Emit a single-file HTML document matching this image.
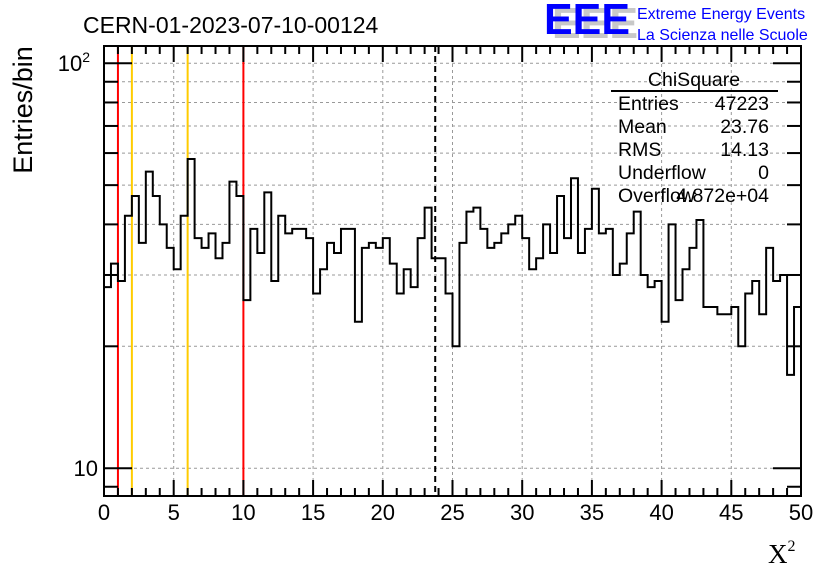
<!DOCTYPE html>
<html><head><meta charset="utf-8"><style>
html,body{margin:0;padding:0;background:#fff;}
svg{display:block;font-family:"Liberation Sans",sans-serif;}
</style></head><body>
<svg id="chart" width="836" height="572" viewBox="0 0 836 572" xmlns="http://www.w3.org/2000/svg">
<rect width="836" height="572" fill="#fff"/>
<g id="grid"></g>
<g id="vlines"></g>
<path id="hist" fill="none" stroke="#000" stroke-width="2"/>
<g id="axes"></g>
<text x="83" y="33" font-size="23">CERN-01-2023-07-10-00124</text>
<g>
<text x="552" y="38" font-size="44" font-weight="bold" fill="#c8c8c8" textLength="86" lengthAdjust="spacingAndGlyphs">EEE</text>
<text x="544" y="34" font-size="44" font-weight="bold" fill="#0000ff" textLength="86" lengthAdjust="spacingAndGlyphs">EEE</text>
<text x="637" y="19" font-size="16" fill="#0000ff">Extreme Energy Events</text>
<text x="637" y="40" font-size="16" fill="#0000ff">La Scienza nelle Scuole</text>
</g>
<g font-size="19.5">
<text x="694" y="86" text-anchor="middle">ChiSquare</text>
<line x1="611" y1="91" x2="778" y2="91" stroke="#000" stroke-width="2"/>
<text x="618" y="110">Entries</text><text x="769" y="110" text-anchor="end">47223</text>
<text x="618" y="133">Mean</text><text x="769" y="133" text-anchor="end">23.76</text>
<text x="618" y="156">RMS</text><text x="769" y="156" text-anchor="end">14.13</text>
<text x="618" y="179">Underflow</text><text x="769" y="179" text-anchor="end">0</text>
<text x="618" y="202">Overflow</text><text x="769" y="202" text-anchor="end">4.872e+04</text>
</g>
<text transform="translate(32,110) rotate(-90)" text-anchor="middle" font-size="27">Entries/bin</text>
<text x="768" y="563" font-size="27" font-family="Liberation Serif,serif">X<tspan font-size="16" dy="-12">2</tspan></text>
</svg>
<script>
const counts=[28,32,29,42,47,36,54,47,40,35,31,42,58,37,35,38,33,36,51,47,26,39,34,48,29,42,38,39,39,37,27,31,36,34,39,39,23,35,36,35,37,32,27,31,28,37,44,33,33,27,20,36,43,44,39,35,36,38,40,42,37,31,33,40,34,47,37,52,34,39,49,38,39,30,32,38,43,30,28,29,23,40,26,31,35,41,25,25,24,24,25,20,27,29,24,35,29,30,17,25];
const xTicks=[0,5,10,15,20,25,30,35,40,45,50];
const redLines=[1,10];
const yellowLines=[2,6];
const meanValue=23.76;
const X0=104,X1=801,Y0=46,Y1=496;
const xMin=0,xMax=50,binW=0.5;
function xs(v){return X0+(v-xMin)/(xMax-xMin)*(X1-X0);}
function ys(v){return 346.3-405*Math.log10(v/20);}
const NS="http://www.w3.org/2000/svg";
function mk(tag,attrs,parent){const e=document.createElementNS(NS,tag);for(const k in attrs)e.setAttribute(k,attrs[k]);parent.appendChild(e);return e;}
const grid=document.getElementById('grid');
xTicks.forEach(t=>{if(t>xMin&&t<xMax){const l=mk('line',{x1:xs(t),x2:xs(t),y1:Y0,y2:Y1,stroke:'#999','stroke-dasharray':'3,3'},grid);

}});
for(let v=10;v<=100;v+=10){const l=mk('line',{x1:X0,x2:X1,y1:ys(v),y2:ys(v),stroke:'#999','stroke-dasharray':'3,3'},grid);

}
const vl=document.getElementById('vlines');
redLines.forEach(v=>{const l=mk('line',{x1:xs(v),x2:xs(v),y1:Y0,y2:Y1,stroke:'#ff0000','stroke-width':2},vl);

});
yellowLines.forEach(v=>{const l=mk('line',{x1:xs(v),x2:xs(v),y1:Y0,y2:Y1,stroke:'#ffcc00','stroke-width':2},vl);

});
const ml=mk('line',{x1:xs(meanValue),x2:xs(meanValue),y1:Y0,y2:Y1,stroke:'#000','stroke-width':2,'stroke-dasharray':'6,4'},vl);


let d='';
counts.forEach((c,i)=>{const xa=xs(xMin+i*binW),xb=xs(xMin+(i+1)*binW),y=ys(c);d+=(i===0?'M':'L')+xa+','+y+'L'+xb+','+y;});
document.getElementById('hist').setAttribute('d',d);
const ax=document.getElementById('axes');
mk('rect',{x:X0,y:Y0,width:X1-X0,height:Y1-Y0,fill:'none',stroke:'#000','stroke-width':2},ax);
for(let v=0;v<=50;v++){const x=xs(v),big=v%5===0;const L=big?16:8;
mk('line',{x1:x,x2:x,y1:Y1,y2:Y1-L,stroke:'#000','stroke-width':2},ax);
mk('line',{x1:x,x2:x,y1:Y0,y2:Y0+L,stroke:'#000','stroke-width':2},ax);}
xTicks.forEach(t=>{const tx=mk('text',{x:xs(t),y:520,'text-anchor':'middle','font-size':22},ax);tx.textContent=t;

});
for(let v=9;v<=100;v++){if(v>10&&v%10!==0)continue;const y=ys(v);if(y>Y1||y<Y0)continue;const L=(v===10||v===100)?28:14;
mk('line',{x1:X0,x2:X0+L,y1:y,y2:y,stroke:'#000','stroke-width':2},ax);
mk('line',{x1:X1,x2:X1-L,y1:y,y2:y,stroke:'#000','stroke-width':2},ax);}
const t10=mk('text',{x:98,y:ys(10)+8,'text-anchor':'end','font-size':22},ax);t10.textContent='10';


const t100=mk('text',{x:90,y:ys(100)+8,'text-anchor':'end','font-size':22},ax);t100.innerHTML='10<tspan font-size="14" dy="-9">2</tspan>';


</script>
</body></html>
